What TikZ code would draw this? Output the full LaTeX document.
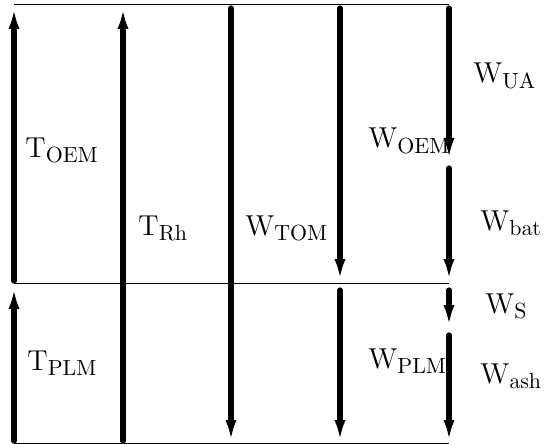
\documentclass[tikz,border=0pt]{standalone}
\usetikzlibrary{arrows.meta}
\begin{document}
\begin{tikzpicture}[x=0.5pt,y=-0.5pt,
  flow/.style={line width=2.6pt,line cap=round,-{Latex[length=11pt,width=5.5pt]}},
  bar/.style={line width=0.5pt},
  lab/.style={anchor=base west,inner sep=0pt,font=\fontsize{15}{18}\selectfont}]
\useasboundingbox (0,0) rectangle (546,444);
% horizontal lines
\coordinate (tl) at (14,5);   \coordinate (tr) at (449,5);
\coordinate (ml) at (14,283); \coordinate (mr) at (449,283);
\coordinate (bl) at (14,443); \coordinate (br) at (449,443);
\draw[bar] (tl) -- (tr);
\draw[bar] (ml) -- (mr);
\draw[bar] (bl) -- (br);
% arrow endpoints
\coordinate (a1s) at (14,281);  \coordinate (a1e) at (14,7);
\coordinate (a2s) at (14,441);  \coordinate (a2e) at (14,287);
\coordinate (a3s) at (123,441); \coordinate (a3e) at (123,7);
\coordinate (a4s) at (231,8);   \coordinate (a4e) at (231,442);
\coordinate (a5s) at (340,8);   \coordinate (a5e) at (340,281);
\coordinate (a6s) at (340,290); \coordinate (a6e) at (340,442);
\coordinate (a7s) at (449,8);   \coordinate (a7e) at (449,160);
\coordinate (a8s) at (449,168); \coordinate (a8e) at (449,281);
\coordinate (a9s) at (449,290); \coordinate (a9e) at (449,327);
\coordinate (a10s) at (449,335); \coordinate (a10e) at (449,442);
\draw[flow] (a1s) -- (a1e);
\draw[flow] (a2s) -- (a2e);
\draw[flow] (a3s) -- (a3e);
\draw[flow] (a4s) -- (a4e);
\draw[flow] (a5s) -- (a5e);
\draw[flow] (a6s) -- (a6e);
\draw[flow] (a7s) -- (a7e);
\draw[flow] (a8s) -- (a8e);
\draw[flow] (a9s) -- (a9e);
\draw[flow] (a10s) -- (a10e);
% labels
\node[lab] (toem) at (25,157) {$\mathrm{T}_{\mathrm{OEM}}$};
\node[lab] (trh) at (138,235) {$\mathrm{T}_{\mathrm{Rh}}$};
\node[lab] (wtom) at (245,235) {$\mathrm{W}_{\mathrm{TOM}}$};
\node[lab] (woem) at (368,148) {$\mathrm{W}_{\mathrm{OEM}}$};
\node[lab] (wua) at (473,83) {$\mathrm{W}_{\mathrm{UA}}$};
\node[lab] (wbat) at (480,230) {$\mathrm{W}_{\mathrm{bat}}$};
\node[lab] (ws) at (485,313) {$\mathrm{W}_{\mathrm{S}}$};
\node[lab] (wash) at (480,383) {$\mathrm{W}_{\mathrm{ash}}$};
\node[lab] (tplm) at (27,370) {$\mathrm{T}_{\mathrm{PLM}}$};
\node[lab] (wplm) at (368,368) {$\mathrm{W}_{\mathrm{PLM}}$};
\end{tikzpicture}
\end{document}
